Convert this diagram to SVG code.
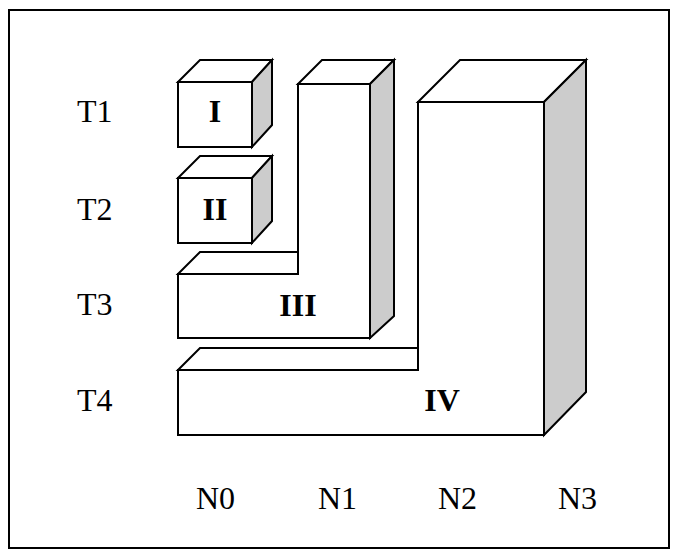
<svg xmlns="http://www.w3.org/2000/svg" width="679" height="560" viewBox="0 0 679 560">
<style>
.f{fill:#ffffff;stroke:#000000;stroke-width:2;stroke-linejoin:miter}
.s{fill:#cccccc;stroke:#000000;stroke-width:2;stroke-linejoin:miter}
.lbl{font-family:"Liberation Serif","Times New Roman",serif;font-size:32px;fill:#000000}
.num{font-family:"Liberation Serif","Times New Roman",serif;font-size:32px;font-weight:bold;fill:#000000;text-anchor:middle}
</style>
<rect x="0" y="0" width="679" height="560" fill="#ffffff"/>
<rect id="frame" x="9" y="10" width="660" height="538" fill="none" stroke="#000000" stroke-width="2"/>
<g id="axis-labels">
<text class="lbl" x="77" y="122">T1</text>
<text class="lbl" x="77" y="220">T2</text>
<text class="lbl" x="77" y="315">T3</text>
<text class="lbl" x="77" y="411">T4</text>
<text class="lbl" x="196" y="509">N0</text>
<text class="lbl" x="318" y="509">N1</text>
<text class="lbl" x="438" y="509">N2</text>
<text class="lbl" x="558" y="509">N3</text>
</g>
<g id="block-IV">
<polygon class="f" points="178,370 200,348 418,348 418,370"/>
<polygon class="f" points="418,102 460,60 586,60 544,102"/>
<polygon class="s" points="544,102 586,60 586,392 544,435"/>
<polygon class="f" points="178,370 418,370 418,102 544,102 544,435 178,435"/>
<text class="num" x="442" y="411">IV</text>
</g>
<g id="block-III">
<polygon class="f" points="178,274 200,252 298,252 298,274"/>
<polygon class="f" points="298,84 322,60 394,60 370,84"/>
<polygon class="s" points="370,84 394,60 394,316 370,338"/>
<polygon class="f" points="178,274 298,274 298,84 370,84 370,338 178,338"/>
<text class="num" x="298" y="316">III</text>
</g>
<g id="block-I">
<polygon class="f" points="178,82 200,60 272,60 252,82"/>
<polygon class="s" points="252,82 272,60 272,125 252,147"/>
<rect class="f" x="178" y="82" width="74" height="65"/>
<text class="num" x="215" y="122">I</text>
</g>
<g id="block-II">
<polygon class="f" points="178,178 200,156 272,156 252,178"/>
<polygon class="s" points="252,178 272,156 272,221 252,243"/>
<rect class="f" x="178" y="178" width="74" height="65"/>
<text class="num" x="215" y="220">II</text>
</g>
<g id="connectors"/>
</svg>
